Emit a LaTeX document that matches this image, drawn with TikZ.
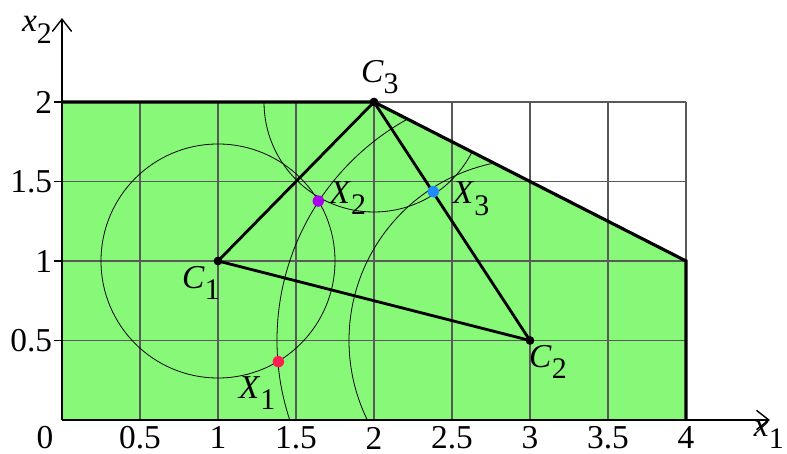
\documentclass[tikz,border=0pt]{standalone}
\usepackage{fontspec}
\setmainfont{Liberation Serif}
\usetikzlibrary{arrows.meta}
\definecolor{feasgreen}{RGB}{136,248,120}
\definecolor{xone}{RGB}{255,30,80}
\definecolor{xtwo}{RGB}{170,0,240}
\definecolor{xthree}{RGB}{30,140,255}
\newcommand{\lbl}[2]{\textit{#1}\raisebox{-0.35em}{\fontsize{17}{19}\selectfont #2}}

\begin{document}
\begin{tikzpicture}
  [x=3.12cm,y=3.18cm,font=\fontsize{19}{22}\selectfont,
   gridline/.style={draw=black!65,line width=1pt},
   arcline/.style={draw=black,line width=0.45pt},
   bound/.style={line width=1.8pt,line join=miter},
   edge/.style={line width=1.6pt,line join=round},
   axis/.style={line width=0.8pt,-{Straight Barb[length=7pt,width=11pt,line width=0.8pt]}},
   dot/.style={circle,fill=black,inner sep=0pt,minimum size=5pt},
   xdot/.style={circle,inner sep=0pt,minimum size=6.5pt}]
  \useasboundingbox (-0.3974,-0.2138) rectangle (4.6474,2.6415);

  % feasible set and grid
  \fill[feasgreen] (0,0) -- (0,2) -- (2,2) -- (4,1) -- (4,0) -- cycle;
  \foreach \x in {0.5,1,1.5,2,2.5,3,3.5,4}
    \draw[gridline] (\x,0) -- (\x,2);
  \foreach \y in {0.5,1,1.5,2}
    \draw[gridline] (0,\y) -- (4,\y);

  \node[dot] (c1) at (1,1) {};
  \node[dot] (c2) at (3,0.5) {};
  \node[dot] (c3) at (2,2) {};

  % circles round the centres
  \begin{scope}
    \clip (0,0) -- (0,2) -- (2,2) -- (4,1) -- (4,0) -- cycle;
    \draw[arcline] (c1.center) circle (2.34cm);
    \draw[arcline] (c2.center) circle (5.06cm);
    \draw[arcline] (c2.center) circle (3.62cm);
    \draw[arcline] (c3.center) circle (2.2cm);
  \end{scope}

  \draw[bound] (0,2) -- (2,2) -- (4,1) -- (4,0);

  % axes
  \coordinate (o) at (0,0);
  \coordinate (xend) at (4.538,0);
  \coordinate (yend) at (0,2.528);
  \draw[axis] (o) -- (xend);
  \draw[axis] (o) -- (yend);
  \node at (-0.16,2.453) {\lbl{x}{2}};
  \node[anchor=east,inner sep=1pt] at (4.64,-0.095) {\lbl{x}{1}};
  \node at (-0.109,-0.113) {0};
  \foreach \x in {0.5,1,1.5,2,2.5,3,3.5,4}
    \node at (\x,-0.113) {\x};
  \foreach \y in {0.5,1,1.5,2}{
    \draw[line width=0.8pt] (-0.05,\y) -- (0,\y);
    \node[anchor=east,inner sep=1pt] at (-0.05,\y) {\y};
  }

  \draw[edge] (c1.center) -- (c2.center) -- (c3.center) -- cycle;

  \node[xdot,fill=xone] (x1) at (1.387,0.367) {};
  \node[xdot,fill=xtwo] (x2) at (1.643,1.377) {};
  \node[xdot,fill=xthree] (x3) at (2.380,1.436) {};

  \node at (0.891,0.862) {\lbl{C}{1}};
  \node at (3.115,0.365) {\lbl{C}{2}};
  \node at (2.038,2.157) {\lbl{C}{3}};
  \node at (1.25,0.17) {\lbl{X}{1}};
  \node at (1.833,1.396) {\lbl{X}{2}};
  \node at (2.622,1.39) {\lbl{X}{3}};
\end{tikzpicture}
\end{document}
